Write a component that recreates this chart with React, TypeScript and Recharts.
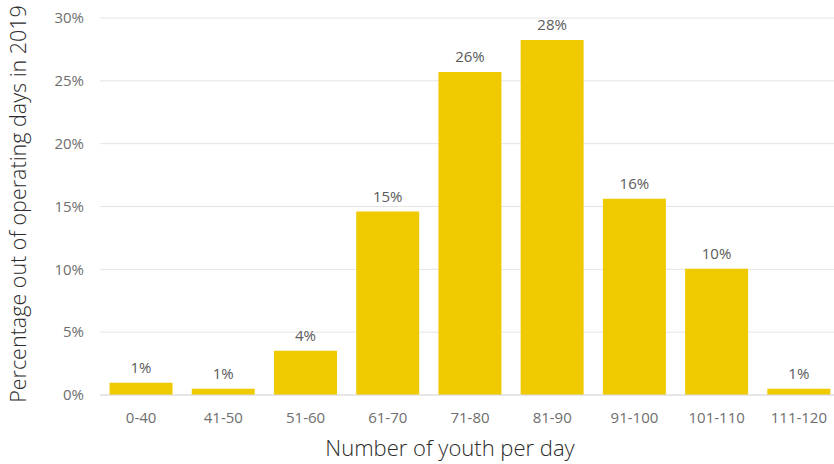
import { BarChart, Bar, XAxis, YAxis, CartesianGrid, LabelList, Label } from "recharts";

// youth-per-day buckets and share of operating days (percent)
const buckets = ["0-40", "41-50", "51-60", "61-70", "71-80", "81-90", "91-100", "101-110", "111-120"];
const shares = [0.98, 0.5, 3.53, 14.6, 25.7, 28.25, 15.62, 10.05, 0.5];
const yTicks = [0, 5, 10, 15, 20, 25, 30];

const data = buckets.map((range, i) => ({ range, share: shares[i] }));

const font = "'Open Sans', sans-serif";
const barColor = "#F0CA00";

export default function App() {
  return (
    <div
      style={{
        position: "absolute",
        left: 0,
        top: 0,
        width: 834,
        height: 464,
        overflow: "hidden",
        background: "#fff",
        fontFamily: font,
      }}
    >
      <BarChart
        width={840}
        height={464}
        data={data}
        margin={{ top: 18, right: 0, bottom: 0, left: 0 }}
        barCategoryGap="11.6%"
      >
        <CartesianGrid vertical={false} stroke="#e4e4e4" />
        <XAxis
          dataKey="range"
          height={69}
          tickLine={false}
          axisLine={{ stroke: "#dcdcdc" }}
          tickMargin={11}
          tick={{ fill: "#6e6e6e", fontSize: 15, fontFamily: font }}
        >
          <Label
            content={() => (
              <text
                x={450}
                y={456}
                textAnchor="middle"
                fill="#2b2b2b"
                fontSize={22}
                fontWeight={300}
                fontFamily={font}
              >
                Number of youth per day
              </text>
            )}
          />
        </XAxis>
        <YAxis
          width={100}
          domain={[0, 30]}
          ticks={yTicks}
          tickFormatter={(v: number) => `${v}%`}
          tickLine={false}
          axisLine={false}
          tickMargin={10}
          tick={{ fill: "#6e6e6e", fontSize: 15, fontFamily: font }}
        >
          <Label
            content={() => (
              <text
                x={26}
                y={204}
                transform="rotate(-90, 26, 204)"
                textAnchor="middle"
                fill="#2b2b2b"
                fontSize={21.5}
                fontWeight={300}
                fontFamily={font}
              >
                Percentage out of operating days in 2019
              </text>
            )}
          />
        </YAxis>
        <Bar dataKey="share" fill={barColor} isAnimationActive={false}>
          <LabelList
            dataKey="share"
            position="top"
            offset={10}
            formatter={(v: number) => `${Math.round(v)}%`}
            style={{ fill: "#5a5a5a", fontSize: 15, fontFamily: font }}
          />
        </Bar>
      </BarChart>
    </div>
  );
}
